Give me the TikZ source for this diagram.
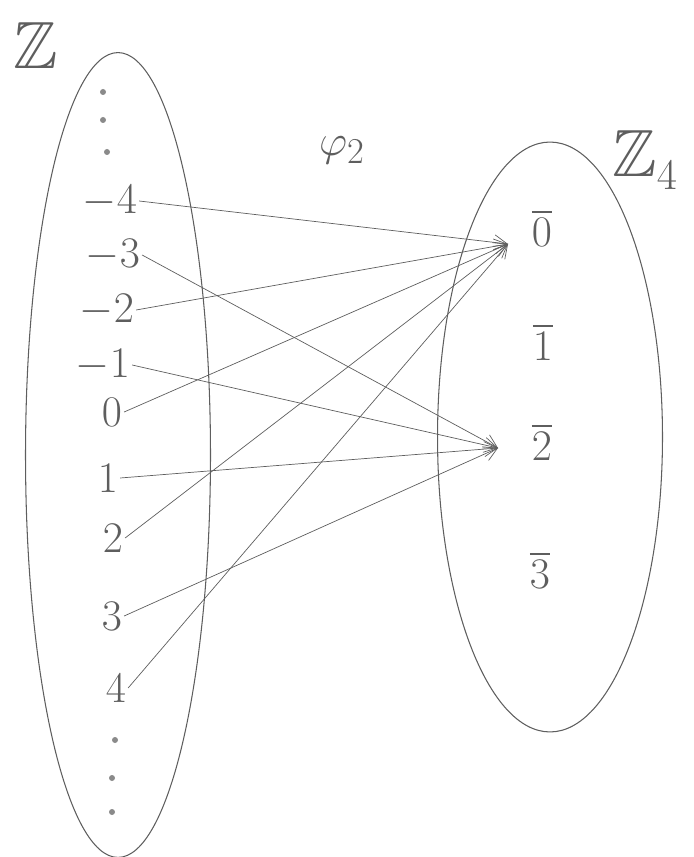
\documentclass[tikz,border=0pt]{standalone}
\usepackage{amssymb}
\usetikzlibrary{arrows.meta,shapes.geometric}
\definecolor{pencil}{HTML}{5E5E5E}
\definecolor{pencillight}{HTML}{8A8A8A}
\tikzset{
  setoval/.style={
    draw=pencil,
    ellipse,
    semithick,
    inner sep=0pt
  },
  elem/.style={
    text=pencil,
    font=\fontsize{25}{30}\selectfont,
    inner sep=1pt
  },
  setname/.style={
    text=pencil,
    font=\fontsize{38}{44}\selectfont,
    inner sep=2pt
  },
  dotmark/.style={circle, fill=pencillight, inner sep=0pt, minimum size=1.2mm},
  assign/.style={-{Straight Barb[length=2.6mm,width=3mm]}, draw=pencil, thin}
}

\begin{document}
\begin{tikzpicture}[x=0.02cm,y=-0.02cm]
\useasboundingbox (0,0) rectangle (693,857);

% the two sets
\node[setoval, minimum width=3.7cm, minimum height=16.1cm] (setZ) at (118,455) {};
\node[setoval, minimum width=4.5cm, minimum height=11.8cm] (setZfour) at (550,437) {};

\node[setname] (nameZ) at (36,46) {$\mathbb{Z}$};
\node[setname] (nameZfour) at (645,160) {$\mathbb{Z}_4$};
\node[elem, font=\fontsize{28}{32}\selectfont] (mapname) at (342,150) {$\varphi_2$};

% elements of Z
\node[dotmark] (dottop1) at (103,92) {};
\node[dotmark] (dottop2) at (103,120) {};
\node[dotmark] (dottop3) at (107,152) {};
\node[elem] (nm4) at (110,201) {$-4$};
\node[elem] (nm3) at (113,255) {$-3$};
\node[elem] (nm2) at (107,310) {$-2$};
\node[elem] (nm1) at (103,365) {$-1$};
\node[elem] (n0) at (112,412) {$0$};
\node[elem] (n1) at (108,478) {$1$};
\node[elem] (n2) at (113,538) {$2$};
\node[elem] (n3) at (112,616) {$3$};
\node[elem] (n4) at (116,688) {$4$};
\node[dotmark] (dotbot1) at (115,740) {};
\node[dotmark] (dotbot2) at (112,778) {};
\node[dotmark] (dotbot3) at (112,812) {};

% classes of Z_4
\node[elem] (c0) at (542,228) {$\overline{0}$};
\node[elem] (c1) at (543,342) {$\overline{1}$};
\node[elem] (c2) at (542,442) {$\overline{2}$};
\node[elem] (c3) at (540,570) {$\overline{3}$};

\coordinate (tip0) at (508,244);
\coordinate (tip2) at (498,448);

% the map
\draw[assign] (nm4.east) -- (tip0);
\draw[assign] (nm3.east) -- (tip2);
\draw[assign] (nm2.east) -- (tip0);
\draw[assign] (nm1.east) -- (tip2);
\draw[assign] (n0.east) -- (tip0);
\draw[assign] (n1.east) -- (tip2);
\draw[assign] (n2.east) -- (tip0);
\draw[assign] (n3.east) -- (tip2);
\draw[assign] (n4.east) -- (tip0);

\end{tikzpicture}
\end{document}
